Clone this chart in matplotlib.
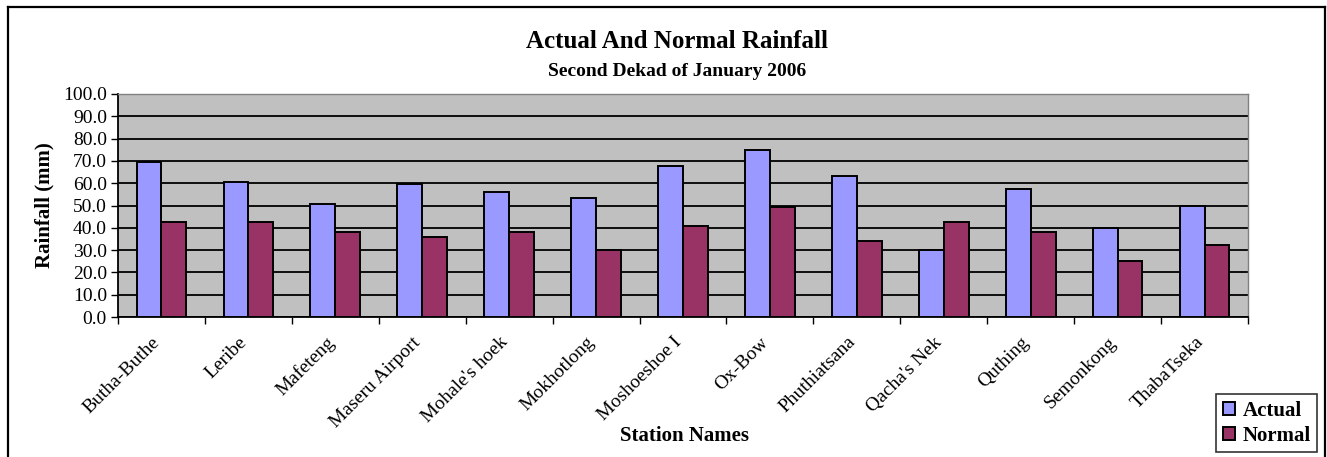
import matplotlib
matplotlib.use("Agg")
import matplotlib.pyplot as plt
import matplotlib.transforms as mtransforms
from matplotlib.lines import Line2D
import numpy as np

stations = ["Butha-Buthe", "Leribe", "Mafeteng", "Maseru Airport", "Mohale's hoek",
            "Mokhotlong", "Moshoeshoe I", "Ox-Bow", "Phuthiatsana", "Qacha's Nek",
            "Quthing", "Semonkong", "ThabaTseka"]
actual = [69.7, 60.7, 50.8, 59.7, 55.9, 53.2, 67.5, 75.0, 63.3, 30.0, 57.4, 39.7, 49.8]
normal = [42.7, 42.7, 38.2, 36.0, 38.2, 30.0, 40.8, 49.2, 34.0, 42.7, 38.2, 25.2, 32.2]
y_ticks = [0, 10, 20, 30, 40, 50, 60, 70, 80, 90, 100]

plt.rcParams['font.family'] = ['Liberation Serif', 'DejaVu Serif']

W, H = 1327, 457
fig = plt.figure(figsize=(W / 100, H / 100), dpi=100)
ax = fig.add_axes([118 / W, 1 - 317 / H, (1248 - 118) / W, (317 - 94) / H])

ax.set_facecolor("#C0C0C0")
x = np.arange(len(stations))
bw = 0.286
ax.bar(x - bw / 2, actual, bw, color="#9999FF", edgecolor="black", linewidth=1.4,
       label="Actual", zorder=3)
ax.bar(x + bw / 2, normal, bw, color="#993366", edgecolor="black", linewidth=1.4,
       label="Normal", zorder=3)

ax.set_ylim(0, 100)
ax.set_xlim(-0.5, len(stations) - 0.5)
ax.set_yticks(y_ticks)
ax.set_yticklabels([f"{v:.1f}" for v in y_ticks], fontsize=14)
ax.yaxis.grid(True, color="black", linewidth=1.3, zorder=1)
ax.set_axisbelow(True)

# category-boundary ticks, labels at category centres
ax.set_xticks(np.arange(-0.5, len(stations), 1.0))
ax.set_xticklabels([])
ax.set_xticks(x, minor=True)
ax.set_xticklabels(stations, minor=True, rotation=45, ha="right", va="top",
                   rotation_mode="anchor", fontsize=14)
ax.tick_params(axis="x", which="minor", length=0, pad=12)
ax.tick_params(axis="x", which="major", length=5, width=1, direction="out")
ax.tick_params(axis="y", length=5, width=1, direction="out", pad=3)
shift = mtransforms.ScaledTranslation(-0.10, 0.0, fig.dpi_scale_trans)
for lbl in ax.get_xticklabels(minor=True):
    lbl.set_transform(lbl.get_transform() + shift)

for side in ["top", "right"]:
    ax.spines[side].set_color("#808080")
    ax.spines[side].set_linewidth(1.0)
for side in ["left", "bottom"]:
    ax.spines[side].set_linewidth(1.3)

ax.set_ylabel("Rainfall (mm)", fontsize=15, fontweight="bold", labelpad=6)
fig.text(685 / W, 1 - 436 / H, "Station Names", ha="center", va="center",
         fontsize=15, fontweight="bold")

fig.text(677 / W, 1 - 41 / H, "Actual And Normal Rainfall", ha="center",
         va="center", fontsize=18, fontweight="bold")
fig.text(677 / W, 1 - 71 / H, "Second Dekad of January 2006", ha="center",
         va="center", fontsize=14, fontweight="bold")

leg = fig.legend(loc="lower right", bbox_to_anchor=(1317 / W, 1 - 452 / H),
                 frameon=True, fancybox=False, handlelength=0.6,
                 handleheight=0.6, handletextpad=0.35, borderpad=0.3,
                 borderaxespad=0, labelspacing=0.25,
                 prop={"weight": "bold", "size": 15})
leg.get_frame().set_edgecolor("black")
leg.get_frame().set_linewidth(1.2)

# chart-area border (left, top, right)
for xs, ys in [((8, 8), (457, 7)), ((8, 1325), (7, 7)), ((1325, 1325), (7, 457))]:
    fig.add_artist(Line2D([v / W for v in xs], [1 - v / H for v in ys],
                          color="black", linewidth=1.6, transform=fig.transFigure))

fig.savefig("out.png", dpi=100, facecolor="white")
